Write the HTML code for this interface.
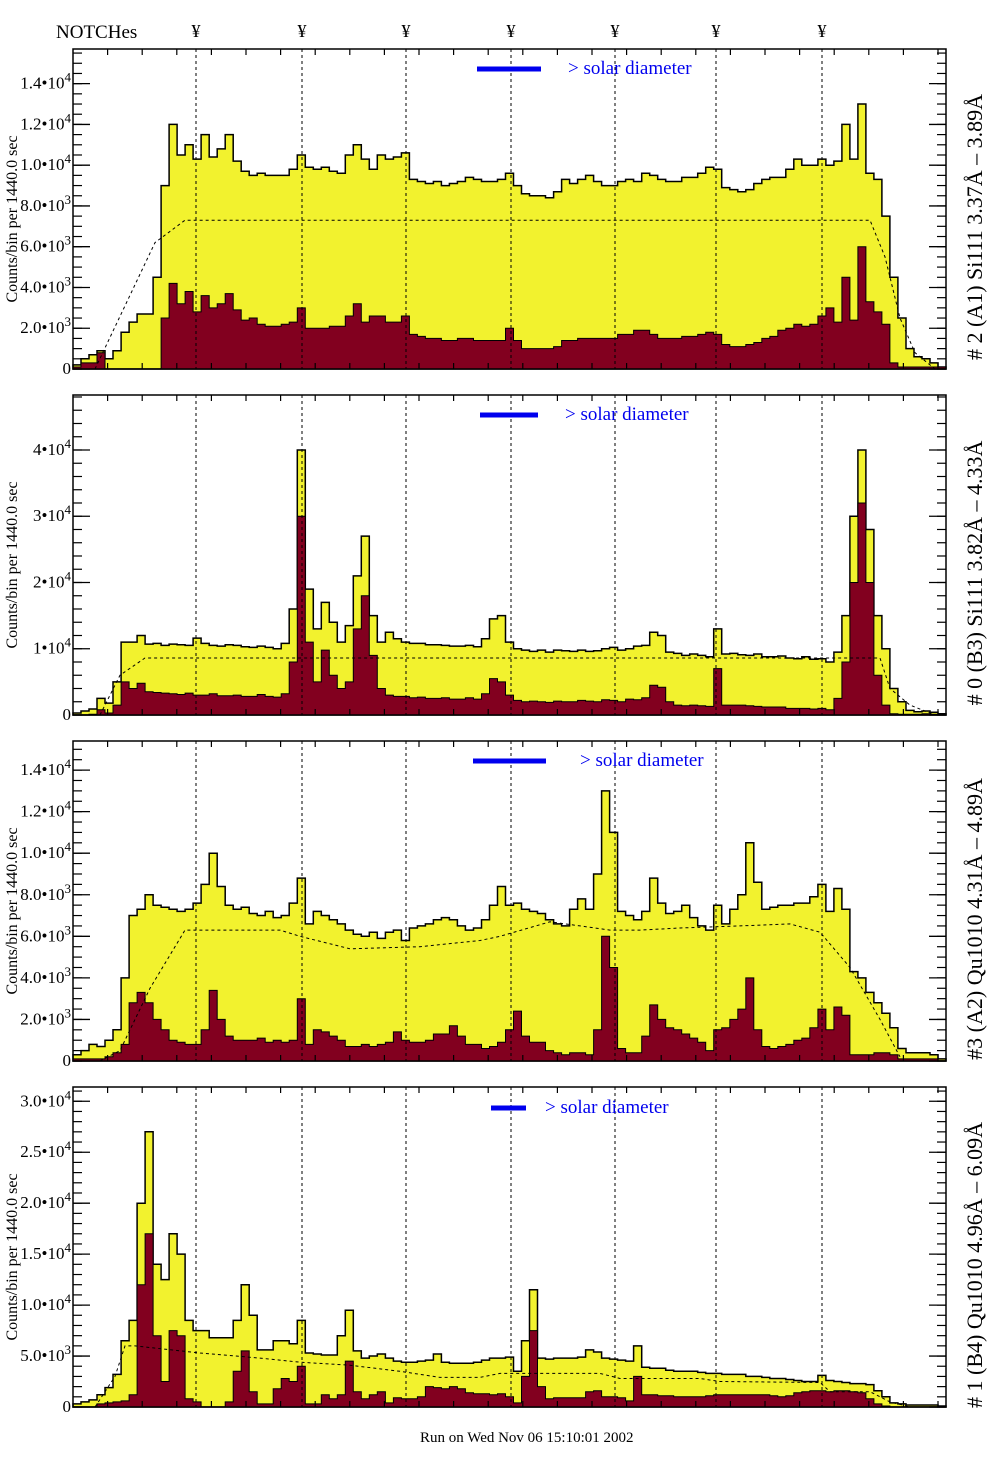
<!DOCTYPE html>
<html><head><meta charset="utf-8"><style>
html,body{margin:0;padding:0;background:#fff}
svg{display:block}
text{font-family:"Liberation Serif",serif}
</style></head><body>
<svg id="chart" width="1004" height="1476" viewBox="0 0 1004 1476" xmlns="http://www.w3.org/2000/svg">
<text x="56" y="38" font-size="19">NOTCHes</text>
<g id="yen"></g>
<g id="panels"></g>
<text x="420" y="1442" font-size="15">Run on Wed Nov 06 15:10:01 2002</text>
</svg>
<script>
// ---------- data (values in thousands of counts, 109 bins) ----------
const p1Yellow=[0.2,0.5,0.7,0.9,0.5,0.9,1.8,2.3,2.7,2.7,4.5,9.0,12.0,10.5,11.0,10.3,11.5,10.4,10.8,11.5,10.2,9.7,9.5,9.6,9.5,9.5,9.5,9.8,10.5,9.9,9.8,9.9,9.7,9.6,10.5,11.0,10.3,9.8,10.5,10.3,10.4,10.6,9.3,9.2,9.1,9.2,9.0,9.1,9.2,9.4,9.3,9.2,9.2,9.3,9.6,9.0,8.6,8.5,8.5,8.4,8.7,9.3,9.1,9.3,9.5,9.2,9.0,9.0,9.2,9.3,9.2,9.6,9.5,9.3,9.2,9.2,9.4,9.4,9.6,9.9,9.8,8.9,8.8,8.7,8.8,9.1,9.3,9.4,9.4,9.8,10.3,10.0,10.0,10.3,10.0,10.2,12.0,10.3,13.0,9.6,9.3,7.5,4.5,2.5,1.0,0.6,0.5,0.3,0.1];
const p1Maroon=[0.1,0.3,0.3,0.8,0,0,0,0,0,0,0,2.5,4.2,3.2,3.8,2.8,3.6,3.0,3.2,3.7,2.9,2.4,2.5,2.2,2.1,2.1,2.2,2.3,3.0,2.0,2.0,2.0,2.1,2.1,2.6,3.2,2.3,2.6,2.6,2.3,2.3,2.6,1.7,1.6,1.5,1.5,1.4,1.4,1.5,1.5,1.4,1.4,1.4,1.4,2.0,1.4,1.0,1.0,1.0,1.0,1.1,1.4,1.4,1.5,1.5,1.5,1.5,1.5,1.7,1.7,1.9,1.9,1.7,1.5,1.5,1.5,1.6,1.6,1.7,1.8,1.7,1.2,1.1,1.1,1.2,1.3,1.5,1.6,1.9,2.0,2.2,2.1,2.2,2.6,3.0,2.3,4.5,2.4,6.0,3.3,2.8,2.2,0.3,0.1,0.1,0.1,0.1,0.1,0.1];
const p1ModelX=[95,155,185,870,885,900,915,935];
const p1ModelY=[0,6.2,7.3,7.3,5.5,2.5,0.8,0];

const p2Yellow=[0.3,0.6,0.9,2.5,1.8,5,11,11,12,10.7,10.8,10.5,10.7,10.6,10.5,11.6,10.8,10.5,10.4,10.6,10.5,10.3,10.2,10.4,10.2,10.0,10.8,16,40,19,13,17,14,11,13.5,21,27,15,11,12.5,11.5,11.0,10.8,10.8,10.6,10.6,10.5,10.4,10.4,10.5,10.3,11.5,14.5,15,11,10.0,9.8,9.6,9.8,9.5,9.8,9.7,9.6,9.8,9.6,9.7,10.0,10.2,9.8,10.0,10.4,10.5,12.5,12.0,9.5,9.3,9.0,9.2,9.0,8.8,13,9.2,9.3,9.1,9.0,9.2,8.8,8.8,8.9,8.6,8.5,8.8,8.4,8.5,8.0,9.5,15,30,40,28,15,10,4,2,0.7,0.5,0.6,0.4,0.2];
const p2Maroon=[0,0,0.1,0.8,0.3,1.5,5,4,4.8,3.5,3.4,3.3,3.2,3.1,3.3,3.0,3.0,3.2,2.9,2.9,3.0,2.8,2.8,3.1,2.8,2.7,3.2,8,30,11,5,9.8,6,4,5,13,18,9,4,3,2.8,2.8,2.6,2.7,2.5,2.5,2.6,2.4,2.4,2.6,2.4,3.2,5.5,5,3.0,2.2,2.0,2.1,2.0,1.9,2.1,2.0,2.0,2.2,2.1,2.0,2.3,2.2,2.0,2.4,2.3,2.6,4.5,4.2,2.0,1.5,1.4,1.5,1.4,1.3,7,1.5,1.5,1.5,1.4,1.3,1.2,1.2,1.2,1.0,1.0,1.0,0.9,1.0,0.8,2.5,8,20,32,20,6,1.5,0.2,0.1,0.1,0.1,0.2,0.1,0];
const p2ModelX=[100,120,145,880,890,910,935];
const p2ModelY=[0,6,8.6,8.6,4,1.5,0];

const p3Yellow=[0.3,0.5,0.8,0.7,1.0,1.5,4.0,7.0,7.3,8.0,7.5,7.4,7.3,7.2,7.3,7.6,8.5,10.0,8.4,7.5,7.3,7.4,7.1,7.0,7.2,6.9,7.0,7.6,8.8,6.6,7.2,7.0,6.8,6.6,6.3,6.1,6.0,6.2,5.9,6.2,6.3,5.8,6.4,6.5,6.6,6.8,6.9,6.8,6.5,6.3,6.4,6.8,7.5,8.4,7.5,7.6,7.3,7.2,7.1,6.8,6.6,6.5,7.3,7.8,7.3,9.0,13.0,11.0,7.2,7.0,6.8,7.2,8.8,7.6,7.1,7.2,7.5,6.9,6.5,6.3,7.5,6.6,7.3,8.0,10.5,8.6,7.3,7.4,7.5,7.5,7.6,7.6,7.9,8.5,7.2,8.3,7.3,4.3,4.0,3.3,2.8,2.3,1.6,0.6,0.4,0.4,0.4,0.3,0.1];
const p3Maroon=[0.1,0.1,0.1,0.1,0.2,0.4,0.8,2.8,3.3,2.8,2.0,1.5,1.0,0.9,0.8,0.8,1.5,3.4,2.0,1.2,1.0,1.0,1.0,1.1,0.9,1.0,0.9,1.0,3.0,0.8,1.5,1.4,1.2,1.0,0.7,0.7,0.8,0.7,0.8,0.9,1.4,1.0,0.9,0.9,1.0,1.3,1.3,1.7,1.2,0.8,0.8,0.6,0.7,0.9,1.5,2.4,1.2,0.9,0.9,0.5,0.4,0.3,0.4,0.4,0.3,1.5,6.0,4.5,0.6,0.4,0.4,1.2,2.7,2.0,1.6,1.5,1.3,1.1,0.9,0.5,1.5,1.6,2.0,2.5,4.0,1.5,0.7,0.6,0.7,0.8,1.0,1.1,1.6,2.5,1.5,2.6,2.2,0.3,0.3,0.3,0.4,0.4,0.3,0.1,0.1,0.1,0.1,0.1,0];
const p3ModelX=[100,120,150,185,280,300,350,420,480,500,550,580,610,640,680,740,790,820,850,880,900];
const p3ModelY=[0,0.5,3.5,6.3,6.3,6.0,5.4,5.5,5.8,6.0,6.7,6.5,6.3,6.3,6.4,6.5,6.6,6.2,4.5,2.0,0.2];

const p4Yellow=[0.3,0.5,0.7,1.2,1.9,3.2,6.5,8.5,20,27,14,12.5,17,15,8.5,7.5,7.5,6.8,6.8,6.8,8.5,12,9,5.6,5.6,6.5,6.5,6.2,8.5,5.3,5.2,5.1,5.1,7,9.5,5.5,4.8,5.0,5.2,4.8,4.5,4.4,4.4,4.5,4.6,5.2,4.4,4.3,4.3,4.3,4.4,4.6,4.8,4.8,4.9,3.5,6.5,11.5,4.8,4.7,4.8,4.8,4.8,4.9,5.6,5.4,4.8,4.7,4.6,4.5,6.0,3.9,3.8,3.8,3.6,3.5,3.5,3.5,3.4,3.3,3.3,3.2,3.2,3.2,3.0,3.0,2.9,2.8,2.8,2.7,2.6,2.5,2.5,3.1,2.6,2.5,2.4,2.3,2.3,2.2,1.6,1.0,0.4,0.3,0.2,0.2,0.2,0.2,0.1];
const p4Maroon=[0,0,0,0.3,0.4,0.5,0.6,1.2,12,17,7,2.5,7.5,7,0.8,0.5,0,0,0,0.5,3.5,5.5,1.5,0.3,0.3,1.8,2.8,2.5,4.0,0.3,0.3,1.2,0.8,1.2,4.5,1.5,0.8,1.2,1.5,0.4,0.9,0.8,0.8,1.0,2.0,1.9,1.8,2.0,1.8,1.4,1.3,1.3,1.2,1.3,1.0,0.4,3.0,7.5,2.0,0.8,0.9,0.9,0.9,0.9,1.5,1.6,1.0,1.0,0.9,0.6,3.0,1.2,1.2,1.1,1.1,1.0,1.0,1.0,1.0,1.1,1.2,1.2,1.2,1.2,1.2,1.2,1.2,1.1,1.0,1.1,1.4,1.5,1.6,1.6,1.5,1.6,1.6,1.5,1.4,0.8,0.3,0.1,0,0,0,0,0,0,0];
const p4ModelX=[95,115,125,135,200,260,300,350,400,440,480,500,600,620,700,720,820,830,870,890,910];
const p4ModelY=[0,3,6,6,5.3,4.8,4.4,4.1,3.5,2.9,2.9,3.3,3.3,2.8,2.8,2.5,2.4,1.5,1.5,0.5,0];

const p1TickVals=[0,2,4,6,8,10,12,14];
const p1TickMant=["0","2.0","4.0","6.0","8.0","1.0","1.2","1.4"];
const p1TickExp=["","3","3","3","3","4","4","4"];
const p2TickVals=[0,10,20,30,40];
const p2TickMant=["0","1","2","3","4"];
const p2TickExp=["","4","4","4","4"];
const p3TickVals=[0,2,4,6,8,10,12,14];
const p3TickMant=["0","2.0","4.0","6.0","8.0","1.0","1.2","1.4"];
const p3TickExp=["","3","3","3","3","4","4","4"];
const p4TickVals=[0,5,10,15,20,25,30];
const p4TickMant=["0","5.0","1.0","1.5","2.0","2.5","3.0"];
const p4TickExp=["","3","4","4","4","4","4"];

const notchX=[196,302,406,511,615,716,822];

// ---------- drawing ----------
const NS="http://www.w3.org/2000/svg";
const svg=document.getElementById('chart');
const X0=73,X1=946,NB=109,BW=(X1-X0)/NB;
function mk(tag,attrs,parent){const e=document.createElementNS(NS,tag);for(const k in attrs)e.setAttribute(k,attrs[k]);(parent||svg).appendChild(e);return e;}
function xBin(i){return X0+i*BW;}

const yenG=document.getElementById('yen');
notchX.forEach(function(x){
  const t=mk('text',{x:x,y:37,'font-size':18,'text-anchor':'middle'},yenG);
  
  
  t.textContent='¥';
});

const panels=[
 {top:49,bottom:369,ymax:15.7,minor:0.5,yel:p1Yellow,mar:p1Maroon,mx:p1ModelX,my:p1ModelY,tv:p1TickVals,tm:p1TickMant,te:p1TickExp,
  title:"# 2 (A1) Si111  3.37Å – 3.89Å",leg:[477,541,69,568],name:'panel-a1-si111'},
 {top:395,bottom:715,ymax:48.3,minor:2,yel:p2Yellow,mar:p2Maroon,mx:p2ModelX,my:p2ModelY,tv:p2TickVals,tm:p2TickMant,te:p2TickExp,
  title:"# 0 (B3) Si111  3.82Å – 4.33Å",leg:[480,538,415,565],name:'panel-b3-si111'},
 {top:741,bottom:1061,ymax:15.4,minor:0.5,yel:p3Yellow,mar:p3Maroon,mx:p3ModelX,my:p3ModelY,tv:p3TickVals,tm:p3TickMant,te:p3TickExp,
  title:"#3 (A2) Qu1010  4.31Å – 4.89Å",leg:[473,546,761,580],name:'panel-a2-qu1010'},
 {top:1087,bottom:1407,ymax:31.4,minor:1,yel:p4Yellow,mar:p4Maroon,mx:p4ModelX,my:p4ModelY,tv:p4TickVals,tm:p4TickMant,te:p4TickExp,
  title:"# 1 (B4) Qu1010 4.96Å – 6.09Å",leg:[491,526,1108,545],name:'panel-b4-qu1010'}
];

const pg=document.getElementById('panels');
panels.forEach(function(p){
  const g=mk('g',{},pg);
  
  
  const ys=function(v){return p.bottom-Math.min(v,p.ymax)*(p.bottom-p.top)/p.ymax;};
  function stepPath(arr){
    let d='M'+X0+','+p.bottom;
    for(let i=0;i<arr.length;i++){d+=' L'+xBin(i).toFixed(1)+','+ys(arr[i]).toFixed(1)+' L'+xBin(i+1).toFixed(1)+','+ys(arr[i]).toFixed(1);}
    d+=' L'+X1+','+p.bottom+' Z';return d;
  }
  const yel=mk('path',{d:stepPath(p.yel),fill:'#f2f22e',stroke:'#000','stroke-width':1.5},g);
  
  
  const mar=mk('path',{d:stepPath(p.mar),fill:'#82001f',stroke:'#000','stroke-width':1},g);
  
  
  let pts=p.mx.map(function(x,i){return x+','+ys(p.my[i]).toFixed(1);}).join(' ');
  const mc=mk('polyline',{points:pts,fill:'none',stroke:'#000','stroke-width':1,'stroke-dasharray':'3,3'},g);
  
  
  notchX.forEach(function(x){
    const l=mk('line',{x1:x,x2:x,y1:p.top,y2:p.bottom,stroke:'#000','stroke-width':1,'stroke-dasharray':'3,3'},g);
    
    
  });
  const fr=mk('rect',{x:X0,y:p.top,width:X1-X0,height:p.bottom-p.top,fill:'none',stroke:'#000','stroke-width':1.5},g);
  
  
  for(let k=1;k<26;k++){const x=X0+34.6*k;if(x>=X1)break;
    mk('line',{x1:x,x2:x,y1:p.top,y2:p.top+6,stroke:'#000','stroke-width':1.2},g);
    mk('line',{x1:x,x2:x,y1:p.bottom,y2:p.bottom-6,stroke:'#000','stroke-width':1.2},g);}
  for(let v=0;v<=p.ymax+1e-6;v+=p.minor){const y=ys(v);
    mk('line',{x1:X0,x2:X0+9,y1:y,y2:y,stroke:'#000','stroke-width':1.2},g);
    mk('line',{x1:X1,x2:X1-9,y1:y,y2:y,stroke:'#000','stroke-width':1.2},g);}
  p.tv.forEach(function(v,i){const y=ys(v);
    mk('line',{x1:X0,x2:X0+17,y1:y,y2:y,stroke:'#000','stroke-width':1.3},g);
    mk('line',{x1:X1,x2:X1-17,y1:y,y2:y,stroke:'#000','stroke-width':1.3},g);
    const t=mk('text',{x:71,y:y+5,'font-size':17,'text-anchor':'end'},g);
    
    
    if(p.te[i]===''){t.textContent=p.tm[i];}
    else{t.textContent=p.tm[i]+'•10';const s=mk('tspan',{dy:-7,'font-size':13},t);s.textContent=p.te[i];}
  });
  const cy=(p.top+p.bottom)/2;
  const yt=mk('text',{x:0,y:0,'font-size':16,'text-anchor':'middle',transform:'translate(17,'+(cy+10)+') rotate(-90)'},g);
  
  
  yt.textContent='Counts/bin per   1440.0 sec';
  const rt=mk('text',{x:0,y:0,'font-size':22,'text-anchor':'middle',transform:'translate(982,'+(cy+18)+') rotate(-90)'},g);
  
  
  rt.textContent=p.title;
  const ll=mk('line',{x1:p.leg[0],x2:p.leg[1],y1:p.leg[2],y2:p.leg[2],stroke:'#0000ee','stroke-width':5},g);
  
  
  const lt=mk('text',{x:p.leg[3],y:p.leg[2]+5,'font-size':19,fill:'#0000ee'},g);
  
  
  lt.textContent='> solar diameter';
});
</script>
</body></html>
